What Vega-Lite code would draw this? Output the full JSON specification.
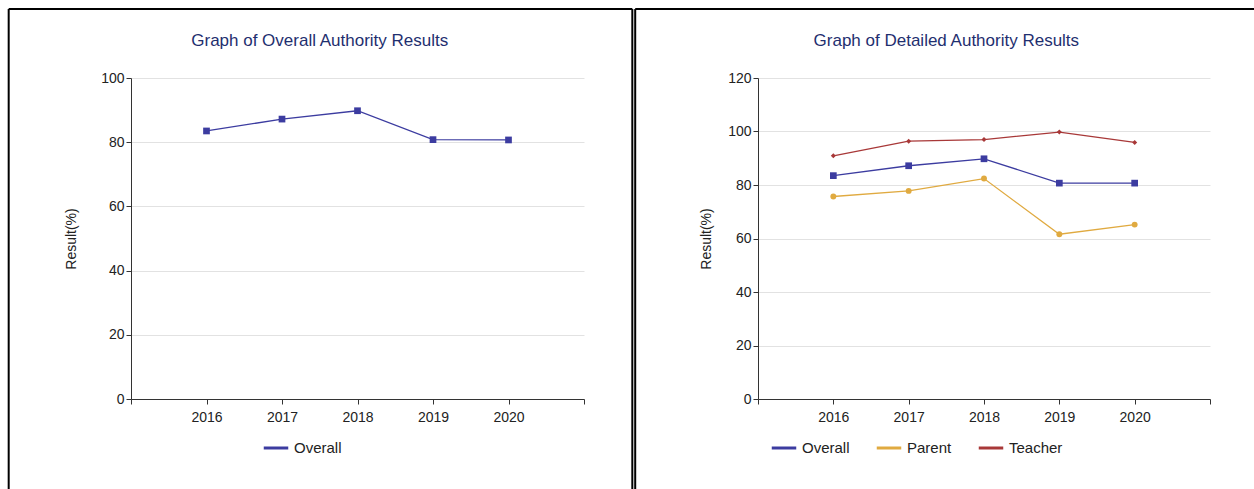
{
  "$schema": "https://vega.github.io/schema/vega-lite/v6.json",
  "padding": {"left": 7, "top": 7, "right": 0, "bottom": 0},
  "spacing": 0,
  "background": "white",
  "resolve": {"scale": {"color": "independent"}},
  "config": {
    "font": "Liberation Sans",
    "view": {"stroke": null},
    "axis": {"labelFont": "Liberation Sans", "titleFont": "Liberation Sans", "labelFontSize": 14, "titleFontSize": 14, "titleFontWeight": "normal", "labelColor": "#222", "titleColor": "#222", "domainColor": "#333", "tickColor": "#333", "gridColor": "#e2e2e2"},
    "legend": {"labelFont": "Liberation Sans", "labelFontSize": 15, "labelColor": "#222", "symbolType": "stroke", "symbolStrokeWidth": 3, "symbolSize": 600, "columnPadding": 20}
  },
  "datasets": {
    "overall": [
      {"year": 2016, "series": "Overall", "result": 83.5},
      {"year": 2017, "series": "Overall", "result": 87.2},
      {"year": 2018, "series": "Overall", "result": 89.8},
      {"year": 2019, "series": "Overall", "result": 80.8},
      {"year": 2020, "series": "Overall", "result": 80.7}
    ],
    "detailed": [
      {"year": 2016, "series": "Overall", "result": 83.5},
      {"year": 2017, "series": "Overall", "result": 87.2},
      {"year": 2018, "series": "Overall", "result": 89.8},
      {"year": 2019, "series": "Overall", "result": 80.7},
      {"year": 2020, "series": "Overall", "result": 80.7},
      {"year": 2016, "series": "Parent", "result": 75.7},
      {"year": 2017, "series": "Parent", "result": 77.8},
      {"year": 2018, "series": "Parent", "result": 82.4},
      {"year": 2019, "series": "Parent", "result": 61.6},
      {"year": 2020, "series": "Parent", "result": 65.2},
      {"year": 2016, "series": "Teacher", "result": 90.9},
      {"year": 2017, "series": "Teacher", "result": 96.4},
      {"year": 2018, "series": "Teacher", "result": 97.0},
      {"year": 2019, "series": "Teacher", "result": 99.8},
      {"year": 2020, "series": "Teacher", "result": 95.9}
    ],
    "borderLeft": [
      {"x": 2013.38, "y": 121.5, "y2": -31},
      {"x": 2021.64, "y": 121.5, "y2": -31}
    ],
    "borderRight": [
      {"x": 2013.37, "y": 145.8, "y2": -37},
      {"x": 2021.62, "y": 145.8, "y2": -37}
    ],
    "titleLeft": [{"x": 2017.5, "y": 111.5, "text": "Graph of Overall Authority Results"}],
    "titleRight": [{"x": 2017.5, "y": 133.8, "text": "Graph of Detailed Authority Results"}]
  },
  "hconcat": [
    {
      "width": 453,
      "height": 321,
      "layer": [
        {
          "data": {"name": "overall"},
          "mark": {"type": "line", "strokeWidth": 1.3},
          "encoding": {
            "x": {"field": "year", "type": "quantitative", "scale": {"domain": [2015, 2021]}, "title": null,
              "axis": {"values": [2015, 2016, 2017, 2018, 2019, 2020, 2021], "labelExpr": "datum.value == 2015 || datum.value == 2021 ? '' : datum.value", "grid": false, "format": "d", "labelPadding": 6}},
            "y": {"field": "result", "type": "quantitative", "scale": {"domain": [0, 100]}, "title": "Result(%)",
              "axis": {"values": [0, 20, 40, 60, 80, 100], "titlePadding": 22}},
            "color": {"field": "series", "type": "nominal", "scale": {"domain": ["Overall"], "range": ["#3c3ca0"]},
              "legend": {"title": null, "orient": "none", "legendX": 131, "legendY": 356, "direction": "horizontal", "symbolType": "stroke"}}
          }
        },
        {
          "data": {"name": "overall"},
          "mark": {"type": "point", "shape": "square", "filled": true, "size": 45, "opacity": 1, "color": "#3c3ca0"},
          "encoding": {
            "x": {"field": "year", "type": "quantitative"},
            "y": {"field": "result", "type": "quantitative"}
          }
        },
        {
          "data": {"name": "titleLeft"},
          "mark": {"type": "text", "clip": false, "fontSize": 17, "color": "#1f2f6f", "baseline": "middle"},
          "encoding": {
            "x": {"field": "x", "type": "quantitative"},
            "y": {"field": "y", "type": "quantitative"},
            "text": {"field": "text"}
          }
        },
        {
          "data": {"name": "borderLeft"},
          "mark": {"type": "rule", "clip": false, "color": "black", "strokeWidth": 2},
          "encoding": {
            "x": {"field": "x", "type": "quantitative"},
            "y": {"field": "y", "type": "quantitative"},
            "y2": {"field": "y2"}
          }
        },
        {
          "data": {"name": "borderLeft"},
          "transform": [{"filter": "datum.x < 2015"}],
          "mark": {"type": "rule", "clip": false, "color": "black", "strokeWidth": 2},
          "encoding": {
            "x": {"field": "x", "type": "quantitative"},
            "x2": {"datum": 2021.64},
            "y": {"field": "y", "type": "quantitative"}
          }
        }
      ]
    },
    {
      "width": 452,
      "height": 321,
      "layer": [
        {
          "data": {"name": "detailed"},
          "mark": {"type": "line", "strokeWidth": 1.3},
          "encoding": {
            "x": {"field": "year", "type": "quantitative", "scale": {"domain": [2015, 2021]}, "title": null,
              "axis": {"values": [2015, 2016, 2017, 2018, 2019, 2020, 2021], "labelExpr": "datum.value == 2015 || datum.value == 2021 ? '' : datum.value", "grid": false, "format": "d", "labelPadding": 6}},
            "y": {"field": "result", "type": "quantitative", "scale": {"domain": [0, 120]}, "title": "Result(%)",
              "axis": {"values": [0, 20, 40, 60, 80, 100, 120], "titlePadding": 14}},
            "color": {"field": "series", "type": "nominal", "scale": {"domain": ["Overall", "Parent", "Teacher"], "range": ["#3c3ca0", "#e0aa40", "#a83838"]},
              "legend": {"title": null, "orient": "none", "legendX": 12, "legendY": 356, "direction": "horizontal", "symbolType": "stroke"}}
          }
        },
        {
          "data": {"name": "detailed"},
          "mark": {"type": "point", "filled": true, "opacity": 1},
          "encoding": {
            "x": {"field": "year", "type": "quantitative"},
            "y": {"field": "result", "type": "quantitative"},
            "color": {"field": "series", "type": "nominal", "legend": null},
            "shape": {"condition": [{"test": "datum.series == 'Overall'", "value": "square"}, {"test": "datum.series == 'Parent'", "value": "circle"}], "value": "diamond"},
            "size": {"condition": [{"test": "datum.series == 'Overall'", "value": 45}, {"test": "datum.series == 'Parent'", "value": 35}], "value": 25}
          }
        },
        {
          "data": {"name": "titleRight"},
          "mark": {"type": "text", "clip": false, "fontSize": 17, "color": "#1f2f6f", "baseline": "middle"},
          "encoding": {
            "x": {"field": "x", "type": "quantitative"},
            "y": {"field": "y", "type": "quantitative"},
            "text": {"field": "text"}
          }
        },
        {
          "data": {"name": "borderRight"},
          "mark": {"type": "rule", "clip": false, "color": "black", "strokeWidth": 2},
          "encoding": {
            "x": {"field": "x", "type": "quantitative"},
            "y": {"field": "y", "type": "quantitative"},
            "y2": {"field": "y2"}
          }
        },
        {
          "data": {"name": "borderRight"},
          "transform": [{"filter": "datum.x < 2015"}],
          "mark": {"type": "rule", "clip": false, "color": "black", "strokeWidth": 2},
          "encoding": {
            "x": {"field": "x", "type": "quantitative"},
            "x2": {"datum": 2021.62},
            "y": {"field": "y", "type": "quantitative"}
          }
        }
      ]
    }
  ]
}
